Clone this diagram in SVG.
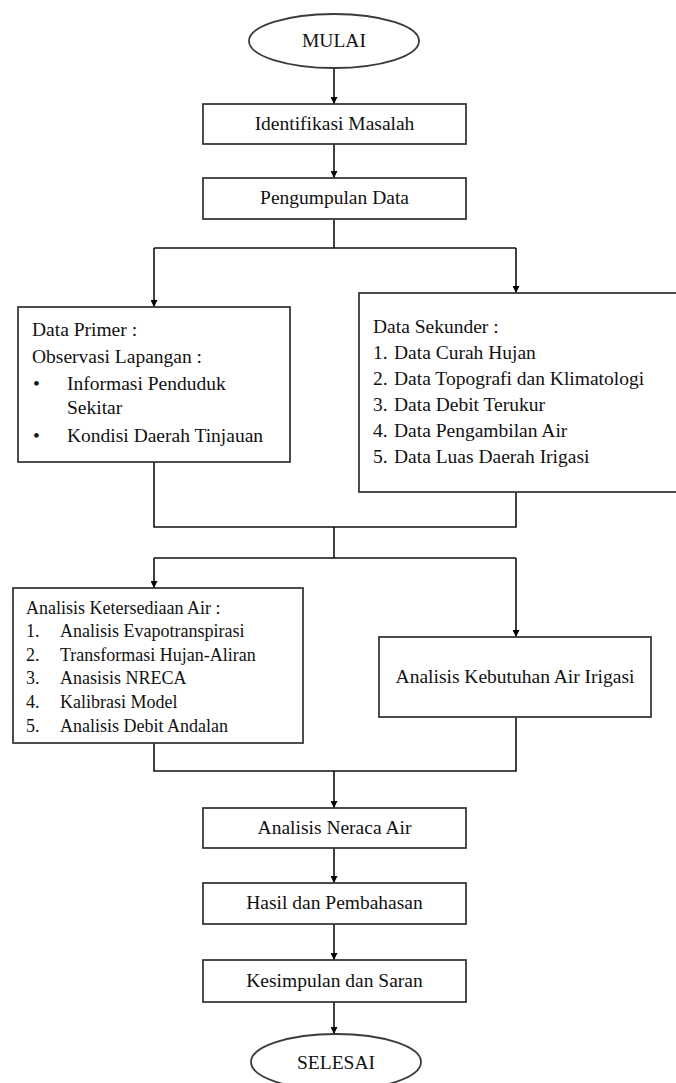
<svg xmlns="http://www.w3.org/2000/svg" width="676" height="1083" viewBox="0 0 676 1083">
<defs>
<marker id="ah" viewBox="0 0 10 10" refX="10" refY="5" markerWidth="7" markerHeight="7" markerUnits="userSpaceOnUse" orient="auto">
<path d="M0,0 L10,5 L0,10 z" fill="#000"/>
</marker>
<style>
.box{fill:#fff;stroke:#3a3a3a;stroke-width:1.8}
.t{font-family:"Liberation Serif","Times New Roman",serif;font-size:19.5px;fill:#111}
.s{font-family:"Liberation Serif","Times New Roman",serif;font-size:18px;fill:#111}
.c{text-anchor:middle}
.ln{fill:none;stroke:#111;stroke-width:1.6}
.ar{fill:none;stroke:#111;stroke-width:1.6;marker-end:url(#ah)}
</style>
</defs>
<rect width="676" height="1083" fill="#fff"/>
<g id="connectors">
<line class="ar" x1="334" y1="68" x2="334" y2="104"/>
<line class="ar" x1="334" y1="144" x2="334" y2="178"/>
<polyline class="ln" points="334,219 334,248"/>
<polyline class="ln" points="154,248 516,248"/>
<line class="ar" x1="154" y1="248" x2="154" y2="307"/>
<line class="ar" x1="516" y1="248" x2="516" y2="293"/>
<polyline class="ln" points="154,462 154,527 516,527 516,492"/>
<polyline class="ln" points="334,527 334,558"/>
<polyline class="ln" points="154,558 516,558"/>
<line class="ar" x1="154" y1="558" x2="154" y2="588"/>
<line class="ar" x1="516" y1="558" x2="516" y2="637"/>
<polyline class="ln" points="154,743 154,771 516,771 516,717"/>
<line class="ar" x1="334" y1="771" x2="334" y2="808"/>
<line class="ar" x1="334" y1="848" x2="334" y2="883"/>
<line class="ar" x1="334" y1="924" x2="334" y2="960"/>
<line class="ar" x1="334" y1="1002" x2="334" y2="1034"/>
</g>
<g id="mulai">
<ellipse class="box" cx="334" cy="41" rx="85" ry="27"/>
<text class="t c" x="334" y="47">MULAI</text>
</g>
<g id="identifikasi">
<rect class="box" x="203" y="104" width="263" height="40"/>
<text class="t c" x="334.5" y="130">Identifikasi Masalah</text>
</g>
<g id="pengumpulan">
<rect class="box" x="203" y="178" width="263" height="41"/>
<text class="t c" x="334.5" y="204">Pengumpulan Data</text>
</g>
<g id="data-primer">
<rect class="box" x="18" y="307" width="272" height="155"/>
<text class="t" x="32" y="336">Data Primer :</text>
<text class="t" x="32" y="363">Observasi Lapangan :</text>
<text class="t" x="33" y="390">•</text>
<text class="t" x="67" y="390">Informasi Penduduk</text>
<text class="t" x="67" y="414">Sekitar</text>
<text class="t" x="33" y="442">•</text>
<text class="t" x="67" y="442">Kondisi Daerah Tinjauan</text>
</g>
<g id="data-sekunder">
<rect class="box" x="359" y="293" width="330" height="199"/>
<text class="t" x="373" y="333">Data Sekunder :</text>
<text class="t" x="373" y="359">1.</text><text class="t" x="394" y="359">Data Curah Hujan</text>
<text class="t" x="373" y="385">2.</text><text class="t" x="394" y="385">Data Topografi dan Klimatologi</text>
<text class="t" x="373" y="411">3.</text><text class="t" x="394" y="411">Data Debit Terukur</text>
<text class="t" x="373" y="437">4.</text><text class="t" x="394" y="437">Data Pengambilan Air</text>
<text class="t" x="373" y="463">5.</text><text class="t" x="394" y="463">Data Luas Daerah Irigasi</text>
</g>
<g id="ketersediaan">
<rect class="box" x="13" y="588" width="290" height="155"/>
<text class="s" x="26" y="614">Analisis Ketersediaan Air :</text>
<text class="s" x="26" y="637">1.</text><text class="s" x="60" y="637">Analisis Evapotranspirasi</text>
<text class="s" x="26" y="661">2.</text><text class="s" x="60" y="661">Transformasi Hujan-Aliran</text>
<text class="s" x="26" y="684">3.</text><text class="s" x="60" y="684">Anasisis NRECA</text>
<text class="s" x="26" y="708">4.</text><text class="s" x="60" y="708">Kalibrasi Model</text>
<text class="s" x="26" y="732">5.</text><text class="s" x="60" y="732">Analisis Debit Andalan</text>
</g>
<g id="kebutuhan">
<rect class="box" x="379" y="637" width="272" height="80"/>
<text class="t c" x="515" y="683">Analisis Kebutuhan Air Irigasi</text>
</g>
<g id="neraca">
<rect class="box" x="203" y="808" width="263" height="40"/>
<text class="t c" x="334.5" y="834">Analisis Neraca Air</text>
</g>
<g id="hasil">
<rect class="box" x="203" y="883" width="263" height="41"/>
<text class="t c" x="334.5" y="909">Hasil dan Pembahasan</text>
</g>
<g id="kesimpulan">
<rect class="box" x="203" y="960" width="263" height="42"/>
<text class="t c" x="334.5" y="987">Kesimpulan dan Saran</text>
</g>
<g id="selesai">
<ellipse class="box" cx="336" cy="1062" rx="85" ry="28"/>
<text class="t c" x="336" y="1069">SELESAI</text>
</g>
</svg>
